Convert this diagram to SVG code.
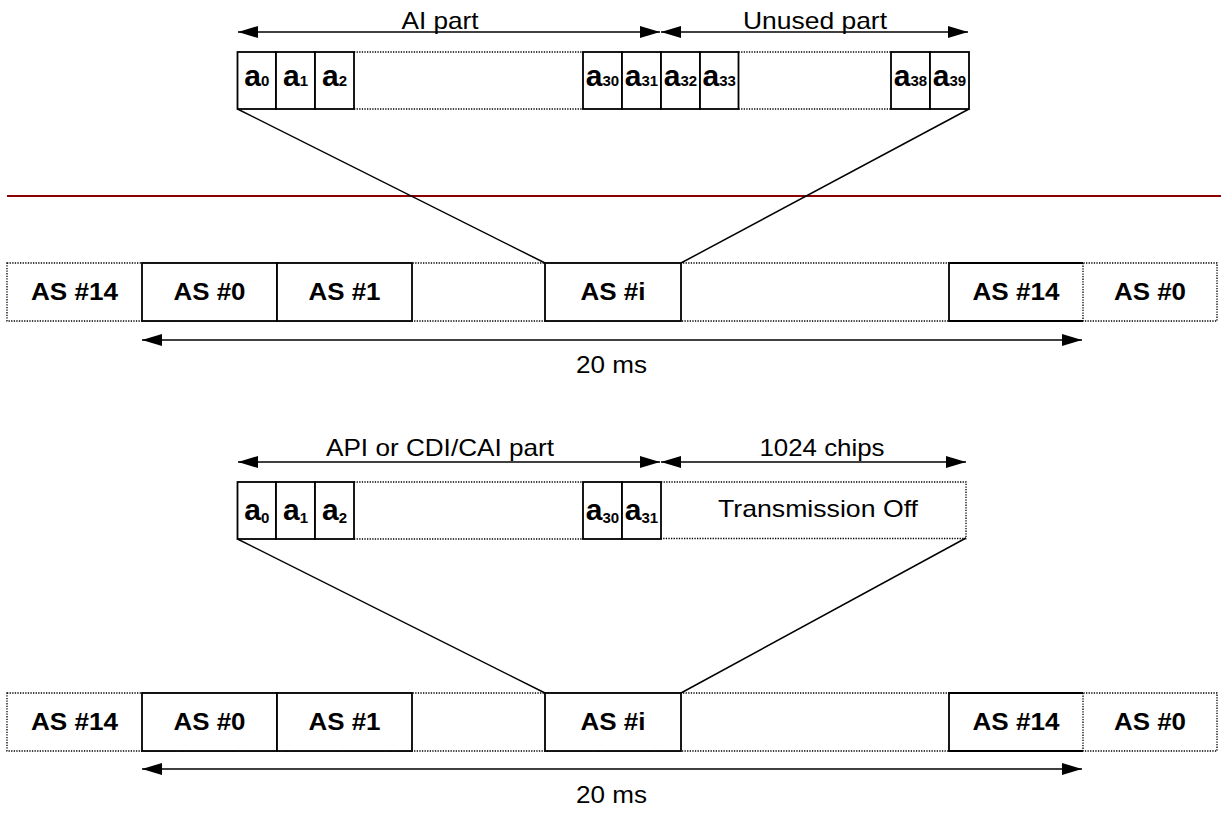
<svg xmlns="http://www.w3.org/2000/svg" width="1221" height="821" viewBox="0 0 1221 821">
<style>
.lbl{font-family:"Liberation Sans",Arial,sans-serif;font-size:24px;fill:#000;text-anchor:middle}
.as{font-family:"Liberation Sans",Arial,sans-serif;font-size:24px;font-weight:bold;fill:#000;text-anchor:middle}
.cell{font-family:"Liberation Sans",Arial,sans-serif;font-size:30px;font-weight:bold;fill:#000;text-anchor:middle}
.sub{font-size:15px}
.box{fill:#fff;stroke:#000;stroke-width:1.8}
.dot{fill:none;stroke:#000;stroke-width:1.3;stroke-dasharray:1.3 1.3}
.ln{fill:none;stroke:#000;stroke-width:1.5}
.arr{fill:none;stroke:#000;stroke-width:1.6;marker-start:url(#ah);marker-end:url(#ah)}
</style>
<defs>
<marker id="ah" markerUnits="userSpaceOnUse" markerWidth="20" markerHeight="12" refX="20" refY="6" orient="auto-start-reverse" viewBox="0 0 20 12">
<path d="M0,0 L20,6 L0,12 z" fill="#000"/>
</marker>
</defs>
<rect width="1221" height="821" fill="#fff"/>

<!-- separator -->
<line x1="7" y1="196" x2="1221" y2="196" stroke="#8b0000" stroke-width="2"/>

<g id="connectors">
<line class="ln" x1="237.5" y1="109" x2="545" y2="263"/>
<line class="ln" x1="969" y1="109" x2="681" y2="263"/>
<line class="ln" x1="237.5" y1="539" x2="545" y2="693"/>
<line class="ln" x1="966" y1="538" x2="681" y2="693"/>
<line class="arr" x1="238" y1="32" x2="660" y2="32"/>
<line class="arr" x1="661" y1="32" x2="968" y2="32"/>
<line class="arr" x1="142" y1="340" x2="1082" y2="340"/>
<line class="arr" x1="238" y1="462" x2="660" y2="462"/>
<line class="arr" x1="661" y1="462" x2="966" y2="462"/>
<line class="arr" x1="142" y1="769" x2="1082" y2="769"/>
</g>

<g id="labels">
<text class="lbl" x="440" y="29" textLength="77" lengthAdjust="spacingAndGlyphs">AI part</text>
<text class="lbl" x="815" y="29" textLength="144" lengthAdjust="spacingAndGlyphs">Unused part</text>
<text class="lbl" x="611.5" y="373" textLength="71" lengthAdjust="spacingAndGlyphs">20 ms</text>
<text class="lbl" x="440" y="456" textLength="228" lengthAdjust="spacingAndGlyphs">API or CDI/CAI part</text>
<text class="lbl" x="822" y="456" textLength="125" lengthAdjust="spacingAndGlyphs">1024 chips</text>
<text class="lbl" x="611.5" y="803" textLength="71" lengthAdjust="spacingAndGlyphs">20 ms</text>
</g>

<!-- top bit row -->
<g id="top-bits">
<line class="dot" x1="354" y1="52" x2="583" y2="52"/>
<line class="dot" x1="354" y1="109" x2="583" y2="109"/>
<line class="dot" x1="738.5" y1="52" x2="891" y2="52"/>
<line class="dot" x1="738.5" y1="109" x2="891" y2="109"/>
<g id="t-a0"><rect class="box" x="237.5" y="52" width="38.5" height="57"/><text class="cell" x="256.75" y="86">a<tspan class="sub">0</tspan></text></g>
<g id="t-a1"><rect class="box" x="276" y="52" width="39" height="57"/><text class="cell" x="295.5" y="86">a<tspan class="sub">1</tspan></text></g>
<g id="t-a2"><rect class="box" x="315" y="52" width="39" height="57"/><text class="cell" x="334.5" y="86">a<tspan class="sub">2</tspan></text></g>
<g id="t-a30"><rect class="box" x="583" y="52" width="39" height="57"/><text class="cell" x="602.5" y="86">a<tspan class="sub">30</tspan></text></g>
<g id="t-a31"><rect class="box" x="622" y="52" width="39" height="57"/><text class="cell" x="641.5" y="86">a<tspan class="sub">31</tspan></text></g>
<g id="t-a32"><rect class="box" x="661" y="52" width="39" height="57"/><text class="cell" x="680.5" y="86">a<tspan class="sub">32</tspan></text></g>
<g id="t-a33"><rect class="box" x="700" y="52" width="38.5" height="57"/><text class="cell" x="719.25" y="86">a<tspan class="sub">33</tspan></text></g>
<g id="t-a38"><rect class="box" x="891" y="52" width="39" height="57"/><text class="cell" x="910.5" y="86">a<tspan class="sub">38</tspan></text></g>
<g id="t-a39"><rect class="box" x="930" y="52" width="39" height="57"/><text class="cell" x="949.5" y="86">a<tspan class="sub">39</tspan></text></g>
</g>

<!-- top AS row -->
<g id="top-as-row">
<rect class="dot" x="7" y="263" width="1210" height="58"/>
<g id="t-as14a"><text class="as" x="74.5" y="300" textLength="87" lengthAdjust="spacingAndGlyphs">AS #14</text></g>
<g id="t-as0"><rect class="box" x="142" y="263" width="135" height="58"/><text class="as" x="209.5" y="300" textLength="72" lengthAdjust="spacingAndGlyphs">AS #0</text></g>
<g id="t-as1"><rect class="box" x="277" y="263" width="135" height="58"/><text class="as" x="344.5" y="300" textLength="72" lengthAdjust="spacingAndGlyphs">AS #1</text></g>
<g id="t-asi"><rect class="box" x="545" y="263" width="136" height="58"/><text class="as" x="613" y="300" textLength="65" lengthAdjust="spacingAndGlyphs">AS #i</text></g>
<g id="t-as14b"><rect x="949" y="263" width="134" height="58" fill="#fff"/><polyline class="box" fill="none" points="1083,263 949,263 949,321 1083,321"/><line class="dot" x1="1083" y1="263" x2="1083" y2="321"/><text class="as" x="1016" y="300" textLength="87" lengthAdjust="spacingAndGlyphs">AS #14</text></g>
<g id="t-as0b"><text class="as" x="1150" y="300" textLength="72" lengthAdjust="spacingAndGlyphs">AS #0</text></g>
</g>

<!-- bottom bit row -->
<g id="bottom-bits">
<line class="dot" x1="354" y1="482" x2="583" y2="482"/>
<line class="dot" x1="354" y1="539" x2="583" y2="539"/>
<g id="b-a0"><rect class="box" x="237.5" y="482" width="38.5" height="57"/><text class="cell" x="256.75" y="520">a<tspan class="sub" dy="3">0</tspan></text></g>
<g id="b-a1"><rect class="box" x="276" y="482" width="39" height="57"/><text class="cell" x="295.5" y="520">a<tspan class="sub" dy="3">1</tspan></text></g>
<g id="b-a2"><rect class="box" x="315" y="482" width="39" height="57"/><text class="cell" x="334.5" y="520">a<tspan class="sub" dy="3">2</tspan></text></g>
<g id="b-a30"><rect class="box" x="583" y="482" width="39" height="57"/><text class="cell" x="602.5" y="520">a<tspan class="sub" dy="3">30</tspan></text></g>
<g id="b-a31"><rect class="box" x="622" y="482" width="39" height="57"/><text class="cell" x="641.5" y="520">a<tspan class="sub" dy="3">31</tspan></text></g>
<g id="b-off"><polyline class="dot" points="661,482 966,482 966,538.5 661,538.5"/><text class="lbl" x="818" y="517" textLength="200" lengthAdjust="spacingAndGlyphs">Transmission Off</text></g>
</g>

<!-- bottom AS row -->
<g id="bottom-as-row">
<rect class="dot" x="7" y="693" width="1210" height="58"/>
<g id="b-as14a"><text class="as" x="74.5" y="730" textLength="87" lengthAdjust="spacingAndGlyphs">AS #14</text></g>
<g id="b-as0"><rect class="box" x="142" y="693" width="135" height="58"/><text class="as" x="209.5" y="730" textLength="72" lengthAdjust="spacingAndGlyphs">AS #0</text></g>
<g id="b-as1"><rect class="box" x="277" y="693" width="135" height="58"/><text class="as" x="344.5" y="730" textLength="72" lengthAdjust="spacingAndGlyphs">AS #1</text></g>
<g id="b-asi"><rect class="box" x="545" y="693" width="136" height="58"/><text class="as" x="613" y="730" textLength="65" lengthAdjust="spacingAndGlyphs">AS #i</text></g>
<g id="b-as14b"><rect x="949" y="693" width="134" height="58" fill="#fff"/><polyline class="box" fill="none" points="1083,693 949,693 949,751 1083,751"/><line class="dot" x1="1083" y1="693" x2="1083" y2="751"/><text class="as" x="1016" y="730" textLength="87" lengthAdjust="spacingAndGlyphs">AS #14</text></g>
<g id="b-as0b"><text class="as" x="1150" y="730" textLength="72" lengthAdjust="spacingAndGlyphs">AS #0</text></g>
</g>
</svg>
